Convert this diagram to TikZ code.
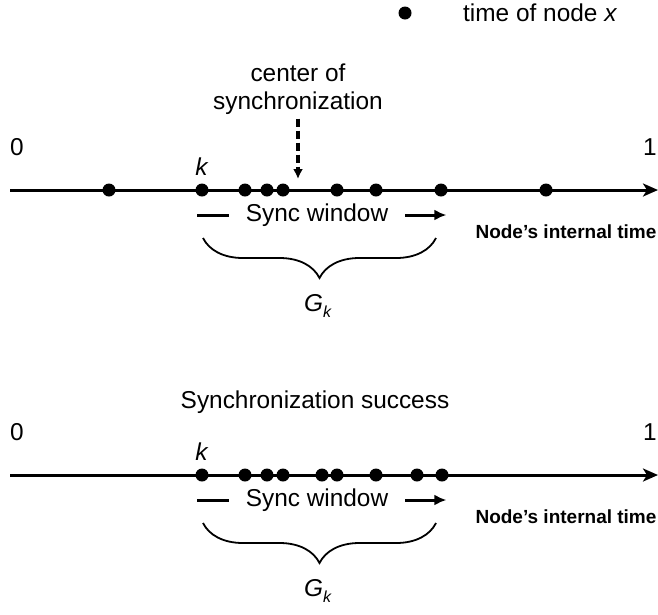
\documentclass[tikz,border=0pt]{standalone}
\usepackage{fontspec}
\setmainfont{Liberation Sans}
\usetikzlibrary{positioning}
\usetikzlibrary{arrows.meta}
\usetikzlibrary{decorations.pathreplacing}

\begin{document}
\begin{tikzpicture}
[
x=1pt, y=-1pt,
dot-a/.style={circle,fill,inner sep=0pt,minimum size=13pt},
text-a/.style={black,inner sep=0pt,font=\fontsize{24.4}{28}\selectfont},
text-b/.style={black,inner sep=0pt,font=\fontsize{19}{23}\selectfont\bfseries},
axis-a/.style={line width=3pt,-{Stealth[length=15pt,width=13pt,inset=4pt]}},
win-a/.style={line width=3pt},
dash-a/.style={line width=3.2pt,dash pattern=on 8pt off 4pt,-{Latex[length=10pt,width=10pt]}},
brace-a/.style={line width=1.8pt,decorate,decoration={brace,mirror,amplitude=40pt}},
]
\useasboundingbox (0,0) rectangle (658,614);

% legend
\node (lg) [dot-a] at (405,13) {};
\node (lt) [text-a, anchor=west] at (463,13) {time of node \textit{x}};

% upper time line
\node (cs) [text-a, align=center] at (298,89) {center of\\synchronization};
\coordinate (ua) at (10,190);
\coordinate (ub) at (658,190);
\draw [axis-a] (ua) -- (ub);
\foreach \x [count=\i] in {109,202,245,267,283,337,376,441,546}
  \node (u\i) [dot-a] at (\x,190) {};
\node (u0l) [text-a] at (17,147) {0};
\node (u1l) [text-a] at (650,147) {1};
\node (uk)  [text-a, above=8pt of u2] {\textit{k}};
\coordinate (uc) at (298,179);
\draw [dash-a] ([yshift=-4pt]cs.south) -- (uc);
\node (uw) [text-a] at (317,215) {Sync window};
\draw [win-a] ([xshift=-17pt]uw.west) -- ([xshift=-49pt]uw.west);
\draw [win-a,-{Latex[length=12pt,width=11pt]}] ([xshift=17pt]uw.east) -- ([xshift=58pt]uw.east);
\node (un) [text-b] at (566,232) {Node’s internal time};
\coordinate (ubl) at (203,238);
\coordinate (ubr) at (436,238);
\draw [brace-a] (ubl) -- (ubr);
\node (ug) [text-a] at (318,306) {\textit{G}\raisebox{-0.5ex}{\fontsize{16}{18}\selectfont\textit{k}}};

% lower time line
\node (ss) [text-a] at (315,402) {Synchronization success};
\coordinate (la) at (10,475);
\coordinate (lb) at (658,475);
\draw [axis-a] (la) -- (lb);
\foreach \x [count=\i] in {202,245,267,283,322,337,376,417,442}
  \node (l\i) [dot-a] at (\x,475) {};
\node (l0l) [text-a] at (17,432) {0};
\node (l1l) [text-a] at (650,432) {1};
\node (lk)  [text-a, above=8pt of l1] {\textit{k}};
\node (lw) [text-a] at (317,500) {Sync window};
\draw [win-a] ([xshift=-17pt]lw.west) -- ([xshift=-49pt]lw.west);
\draw [win-a,-{Latex[length=12pt,width=11pt]}] ([xshift=17pt]lw.east) -- ([xshift=58pt]lw.east);
\node (ln) [text-b] at (566,517) {Node’s internal time};
\coordinate (lbl) at (203,523);
\coordinate (lbr) at (436,523);
\draw [brace-a] (lbl) -- (lbr);
\node (lg2) [text-a] at (318,591) {\textit{G}\raisebox{-0.5ex}{\fontsize{16}{18}\selectfont\textit{k}}};
\end{tikzpicture}
\end{document}
